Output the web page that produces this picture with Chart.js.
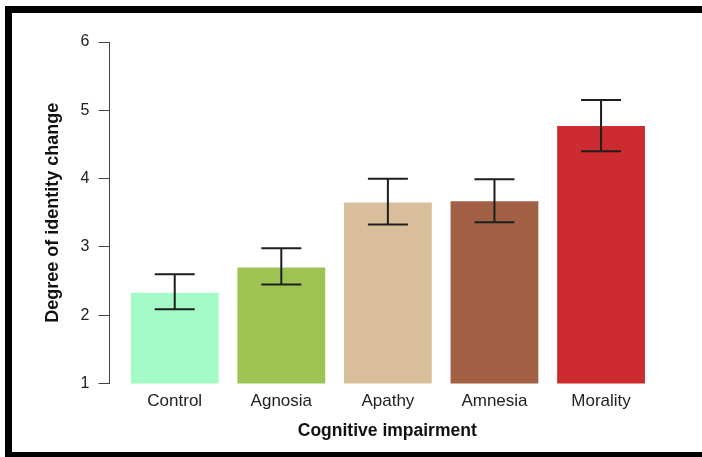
<!DOCTYPE html>
<html lang="en">
<head>
  <meta charset="UTF-8">
  <title>Degree of identity change</title>
  <script src="https://cdn.jsdelivr.net/npm/chart.js"></script>
  <style>
    html, body {
      margin: 0;
      overflow: hidden;
      background: #fff;
    }
    #frame {
      position: absolute;
      left: 5px;
      top: 6px;
      width: 720px;
      height: 439px;
      border: 7px solid #000;
      pointer-events: none;
    }
    #chart {
      position: absolute;
      left: 0;
      top: 0;
    }
  </style>
</head>
<body>
  <canvas id="chart" width="702" height="457" style="width: 702px; height: 457px;"></canvas>
  <div id="frame"></div>

  <script>
    // data
    const categories = ['Control', 'Agnosia', 'Apathy', 'Amnesia', 'Morality'];
    const means = [2.33, 2.70, 3.65, 3.67, 4.77];
    const errLow = [2.09, 2.45, 3.33, 3.36, 4.40];
    const errHigh = [2.60, 2.98, 4.00, 3.99, 5.15];
    const yTicks = [1, 2, 3, 4, 5, 6];

    const barColors = ['#a4fbc8', '#9dc452', '#d9be9b', '#a26045', '#cc2b2f'];
    const font = '"Liberation Sans", Arial, sans-serif';

    // draws the whiskers from the scales
    const errorBars = {
      id: 'errorBars',
      afterDatasetsDraw(chart) {
        const ctx = chart.ctx;
        const x = chart.scales.x;
        const y = chart.scales.y;
        const cap = 20;
        ctx.save();
        ctx.strokeStyle = '#1e1e1e';
        ctx.lineWidth = 2;
        categories.forEach((_, i) => {
          const px = x.getPixelForValue(i);
          const top = y.getPixelForValue(errHigh[i]);
          const bot = y.getPixelForValue(errLow[i]);
          ctx.beginPath();
          ctx.moveTo(px, top);
          ctx.lineTo(px, bot);
          ctx.moveTo(px - cap, top);
          ctx.lineTo(px + cap, top);
          ctx.moveTo(px - cap, bot);
          ctx.lineTo(px + cap, bot);
          ctx.stroke();
        });
        ctx.restore();
      }
    };

    new Chart(document.getElementById('chart').getContext('2d'), {
      type: 'bar',
      data: {
        datasets: [{
          data: means.map((v, i) => ({ x: i, y: v })),
          backgroundColor: barColors,
          borderWidth: 0,
          categoryPercentage: 1,
          barPercentage: 0.824
        }]
      },
      options: {
        responsive: false,
        animation: false,
        layout: {
          padding: { left: 42, right: 37, top: 42, bottom: 15 }
        },
        plugins: {
          legend: { display: false },
          tooltip: { enabled: false }
        },
        scales: {
          x: {
            type: 'linear',
            offset: false,
            min: -0.612,
            max: 4.6,
            grid: { display: false },
            border: { display: false },
            afterBuildTicks: s => { s.ticks = categories.map((_, i) => ({ value: i })); },
            ticks: {
              autoSkip: false,
              maxRotation: 0,
              padding: 0,
              color: '#222',
              font: { family: font, size: 17 },
              callback: v => categories[v]
            },
            title: {
              display: true,
              text: 'Cognitive impairment',
              color: '#111',
              padding: { top: 9, bottom: 0 },
              font: { family: font, size: 17.5, weight: 'bold' }
            }
          },
          y: {
            min: 1,
            max: 6,
            afterBuildTicks: s => { s.ticks = yTicks.map(v => ({ value: v })); },
            grid: {
              drawOnChartArea: false,
              drawTicks: true,
              tickLength: 11,
              color: '#444',
              lineWidth: 1
            },
            border: { display: true, color: '#444', width: 1 },
            ticks: {
              padding: 9,
              color: '#222',
              font: { family: font, size: 16 }
            },
            title: {
              display: true,
              text: 'Degree of identity change',
              color: '#111',
              padding: { top: 0, bottom: 8 },
              font: { family: font, size: 18, weight: 'bold' }
            }
          }
        }
      },
      plugins: [errorBars]
    });
  </script>
</body>
</html>
